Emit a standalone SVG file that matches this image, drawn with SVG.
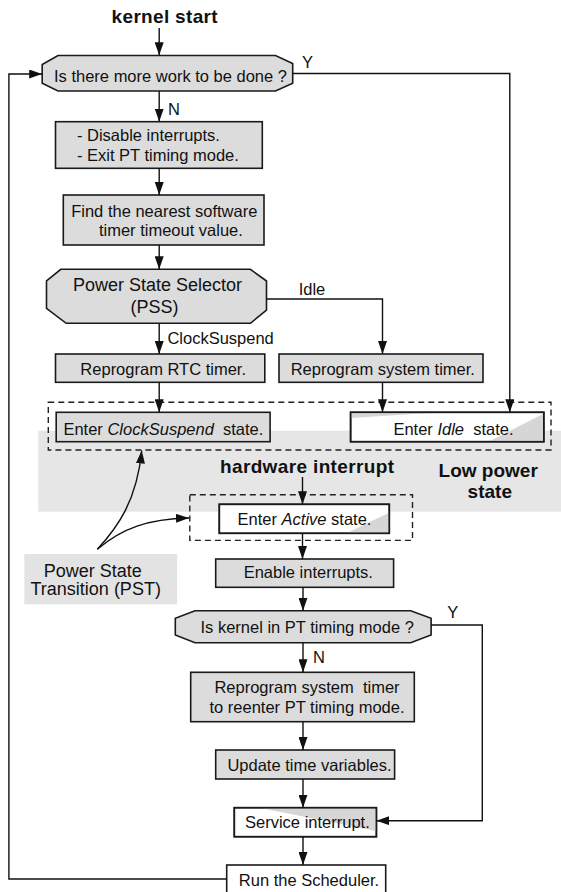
<svg xmlns="http://www.w3.org/2000/svg" width="561" height="892" viewBox="0 0 561 892">
<style>
.box{fill:#dcdcdc;stroke:#1a1a1a;stroke-width:1.6}
.wbox{fill:#ffffff;stroke:#1a1a1a;stroke-width:1.6}
.wedge{fill:#d6d6d6;stroke:none}
.t{font-family:"Liberation Sans",Arial,sans-serif;font-size:16.5px;fill:#111}
.tb{font-family:"Liberation Sans",Arial,sans-serif;font-size:19px;font-weight:bold;fill:#111}
.tl{font-family:"Liberation Sans",Arial,sans-serif;font-size:18px;fill:#111}
.m{text-anchor:middle}
.c{fill:none;stroke:#111;stroke-width:1.4}
.dash{fill:none;stroke:#222;stroke-width:1.4;stroke-dasharray:6 4}
</style>
<defs>
<marker id="ah" markerUnits="userSpaceOnUse" markerWidth="13" markerHeight="9" refX="13" refY="4.5" orient="auto">
<path d="M0,0 L13,4.5 L0,9 z" fill="#111"/>
</marker>
</defs>

<rect id="lowpower" x="38.3" y="430.7" width="523" height="81" fill="#e6e6e6"/>

<g id="kernel-start"><text class="tb m" x="164.6" y="22.7" textLength="106" lengthAdjust="spacing">kernel start</text></g>

<g id="more-work">
<polygon class="box" points="58,55.5 275.5,55.5 292.7,63.5 292.7,83.3 275.5,91 58,91 42.2,83.3 42.2,64.5"/>
<text class="t m" x="170.5" y="81.7">Is there more work to be done ?</text>
</g>

<g id="disable">
<rect class="box" x="55.5" y="121.7" width="206.8" height="46.6"/>
<text class="t" x="76.9" y="141">- Disable interrupts.</text>
<text class="t" x="76.9" y="161">- Exit PT timing mode.</text>
</g>

<g id="find-timer">
<rect class="box" x="63.3" y="195" width="200.7" height="50"/>
<text class="t m" x="164.3" y="217.3">Find the nearest software</text>
<text class="t m" x="170.9" y="236">timer timeout value.</text>
</g>

<g id="pss">
<polygon class="box" points="60.8,269.3 250.4,269.3 266.5,281 266.5,310 250.4,323.3 66.2,323.3 46.5,308.3 46.5,281"/>
<text class="tl m" x="157.5" y="291">Power State Selector</text>
<text class="tl m" x="154.4" y="313.3">(PSS)</text>
</g>

<g id="rtc">
<rect class="box" x="55.5" y="354" width="209.3" height="28.3"/>
<text class="t m" x="163.2" y="375">Reprogram RTC timer.</text>
</g>

<g id="sys-timer">
<rect class="box" x="279" y="354" width="204" height="28.3"/>
<text class="t m" x="382.8" y="375">Reprogram system timer.</text>
</g>

<g id="enter-clocksuspend">
<rect class="box" x="56.2" y="412.3" width="213.9" height="29.4"/>
<text class="t m" x="163.4" y="435" xml:space="preserve">Enter <tspan font-style="italic">ClockSuspend</tspan>  state.</text>
</g>

<g id="enter-idle">
<rect class="wbox" x="350.6" y="412.3" width="193.2" height="29.4"/>
<polygon class="wedge" points="351.4,413.1 430,413.1 351.4,418"/>
<polygon class="wedge" points="490,440.9 543,440.9 543,414"/>
<rect x="350.6" y="412.3" width="193.2" height="29.4" fill="none" stroke="#1a1a1a" stroke-width="1.6"/>
<text class="t m" x="453.5" y="435" xml:space="preserve">Enter <tspan font-style="italic">Idle</tspan>  state.</text>
</g>

<g id="sleep-group"><rect class="dash" x="48.3" y="402.3" width="502.7" height="47.7"/></g>

<g id="hw-interrupt"><text class="tb m" x="307" y="473.3" textLength="174" lengthAdjust="spacing">hardware interrupt</text></g>

<g id="low-power-label">
<text class="tb m" x="488.2" y="476.7">Low power</text>
<text class="tb m" x="489.8" y="498">state</text>
</g>

<g id="enter-active">
<rect class="wbox" x="219.3" y="504.3" width="170" height="29"/>
<polygon class="wedge" points="348,532.5 388.5,532.5 388.5,513"/>
<rect x="219.3" y="504.3" width="170" height="29" fill="none" stroke="#1a1a1a" stroke-width="1.6"/>
<text class="t m" x="304.5" y="525">Enter <tspan font-style="italic">Active</tspan> state.</text>
</g>

<g id="active-group"><rect class="dash" x="189.8" y="494.7" width="222.7" height="45.7"/></g>

<g id="enable">
<rect class="box" x="215.7" y="559" width="177.9" height="28.3"/>
<text class="t m" x="308.3" y="578.3">Enable interrupts.</text>
</g>

<g id="pst">
<rect x="24.3" y="554" width="152.8" height="50.3" fill="#e3e3e3"/>
<text class="tl m" x="92.8" y="576.7">Power State</text>
<text class="tl m" x="95.7" y="595">Transition (PST)</text>
</g>

<g id="pt-mode">
<polygon class="box" points="195,610.7 410.7,610.7 431.1,618.3 431.1,635 410.7,642.7 195,642.7 175.3,635 175.3,618.3"/>
<text class="t m" x="307.2" y="633.3">Is kernel in PT timing mode ?</text>
</g>

<g id="reprogram-pt">
<rect class="box" x="190.7" y="672.3" width="223.6" height="49.4"/>
<text class="t m" x="307" y="693.3" xml:space="preserve">Reprogram system  timer</text>
<text class="t m" x="307" y="712.7">to reenter PT timing mode.</text>
</g>

<g id="update">
<rect class="box" x="215.7" y="750" width="178.9" height="29"/>
<text class="t m" x="309.5" y="770.7">Update time variables.</text>
</g>

<g id="service">
<rect class="wbox" x="234.3" y="807.7" width="142.1" height="29"/>
<polygon class="wedge" points="263,808.5 375.6,808.5 375.6,831"/>
<rect x="234.3" y="807.7" width="142.1" height="29" fill="none" stroke="#1a1a1a" stroke-width="1.6"/>
<text class="t m" x="307.4" y="828.3">Service interrupt.</text>
</g>

<g id="scheduler">
<rect class="wbox" x="226.7" y="865" width="159" height="40"/>
<text class="t m" x="309" y="886">Run the Scheduler.</text>
</g>

<g id="connectors">
<path class="c" d="M159.2,28 V55.3" marker-end="url(#ah)"/>
<path class="c" d="M159.2,91 V121.7" marker-end="url(#ah)"/>
<path class="c" d="M159.2,168.3 V195" marker-end="url(#ah)"/>
<path class="c" d="M159.2,245 V269.3" marker-end="url(#ah)"/>
<path class="c" d="M159.2,323.3 V354" marker-end="url(#ah)"/>
<path class="c" d="M266.5,299 H382.5 V354" marker-end="url(#ah)"/>
<path class="c" d="M159.2,382.3 V412.3" marker-end="url(#ah)"/>
<path class="c" d="M382.5,382.3 V412.3" marker-end="url(#ah)"/>
<path class="c" d="M292.7,73.5 H509.8 V412.3" marker-end="url(#ah)"/>
<path class="c" d="M302.5,477 V504.3" marker-end="url(#ah)"/>
<path class="c" d="M302.5,533.3 V559" marker-end="url(#ah)"/>
<path class="c" d="M303,587.3 V610.7" marker-end="url(#ah)"/>
<path class="c" d="M303,642.7 V672.3" marker-end="url(#ah)"/>
<path class="c" d="M303,721.7 V750" marker-end="url(#ah)"/>
<path class="c" d="M303,779 V807.7" marker-end="url(#ah)"/>
<path class="c" d="M431.1,625 H482.3 V820.7 H376.4" marker-end="url(#ah)"/>
<path class="c" d="M303,836.7 V865" marker-end="url(#ah)"/>
<path class="c" d="M226.7,879 H8.9 V74 H42.2" marker-end="url(#ah)"/>
<path class="c" d="M97.3,549.3 C118,527 137,500 141.7,450.5" marker-end="url(#ah)"/>
<path class="c" d="M97.3,549.3 C122,528 148,519 189,518" marker-end="url(#ah)"/>
<text class="t" x="302" y="68.3">Y</text>
<text class="t" x="168" y="115">N</text>
<text class="t" x="298.7" y="295">Idle</text>
<text class="t" x="167.4" y="344.3">ClockSuspend</text>
<text class="t" x="447.2" y="618.3">Y</text>
<text class="t" x="313" y="663.3">N</text>
</g>
</svg>
